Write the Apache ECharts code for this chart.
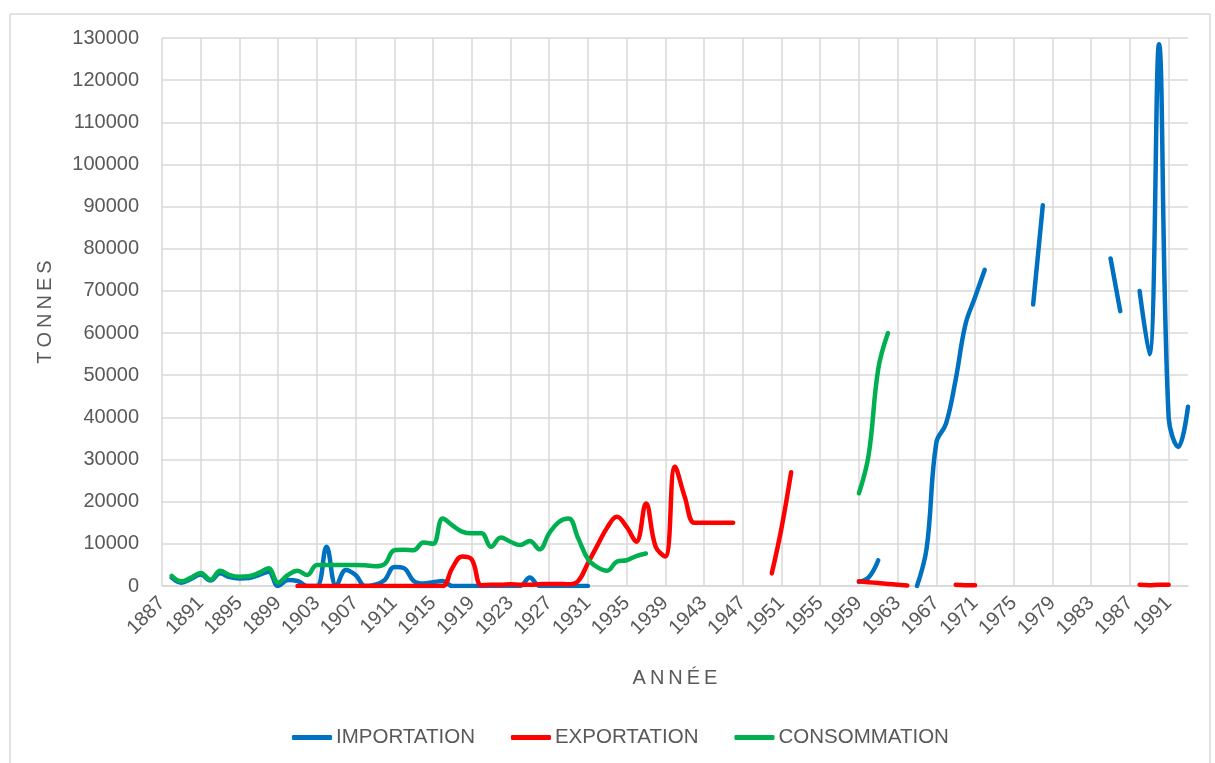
<!DOCTYPE html>
<html>
<head>
<meta charset="utf-8">
<script src="https://cdn.jsdelivr.net/npm/echarts@6/dist/echarts.min.js"></script>
<style>
  html, body { margin: 0; padding: 0; background: #fff; }
  #chart { width: 1215px; height: 763px; }
</style>
</head>
<body>
<div id="chart"></div>
<script>
// categories: one per year
var years = [];
for (var y = 1887; y <= 1993; y++) years.push(String(y));

var yTicks = [0, 10000, 20000, 30000, 40000, 50000, 60000, 70000, 80000, 90000, 100000, 110000, 120000, 130000];

// tonnes per year, 1887 -> 1993 (null = no data)
var importation = [
  null, 2000, 800, 1700, 2700, 1300, 3000, 2100, 1800, 1900,          // 1887-1896
  2600, 3400, 0, 1400, 1200, 0, 0, 9300, 0, 3800,                     // 1897-1906
  2600, 0, 300, 1400, 4500, 4200, 1200, 600, 900, 1200,               // 1907-1916
  0, 0, 0, 0, 0, 0, 0, 0, 2000, 0,                                    // 1917-1926
  0, 0, 0, 0, 0, null, null, null, null, null,                        // 1927-1936
  null, null, null, null, null, null, null, null, null, null,         // 1937-1946
  null, null, null, null, null, null, null, null, null, null,         // 1947-1956
  null, null, 1000, 2000, 6100, null, null, null, 0, 9000,            // 1957-1966
  34000, 38500, 49000, 62000, 68500, 75000, null, null, null, null,   // 1967-1976
  66800, 90300, null, null, null, null, null, null, 77700, 65200,     // 1977-1986
  null, 70000, 55000, 128500, 40000, 33000, 42500                     // 1987-1993
];

var exportation = [
  null, null, null, null, null, null, null, null, null, null,         // 1887-1896
  null, null, null, null, 0, 0, 0, 0, 0, 0,                           // 1897-1906
  0, 0, 0, 0, 0, 0, 0, 0, 0, 0,                                       // 1907-1916
  4300, 7000, 6300, 200, 300, 300, 400, 300, 300, 400,                // 1917-1926
  500, 500, 400, 1200, 5400, 9700, 13900, 16400, 14000, 10500,        // 1927-1936
  19600, 9300, 7000, 28300, 21200, 15000, 15000, 15000, 15000, 15000, // 1937-1946
  null, null, null, 3000, 13700, 27000, null, null, null, null,       // 1947-1956
  null, null, 1100, 900, 700, 500, 300, 100, null, null,              // 1957-1966
  null, null, 300, 200, 200, null, null, null, null, null,            // 1967-1976
  null, null, null, null, null, null, null, null, null, null,         // 1977-1986
  null, 300, 200, 300, 300, null, null                                // 1987-1993
];

var consommation = [
  null, 2400, 1100, 2000, 3100, 1500, 3600, 2600, 2200, 2300,         // 1887-1896
  3100, 4200, 800, 2600, 3600, 2600, 5000, 5000, 5000, 5000,          // 1897-1906
  5000, 4900, 4700, 5200, 8500, 8600, 8500, 10300, 10000, 16000,      // 1907-1916
  14400, 12900, 12500, 12500, 9300, 11500, 10500, 9700, 10700, 8700,  // 1917-1926
  12500, 15200, 16000, 11300, 6400, 4400, 3600, 5800, 6100, 7100,     // 1927-1936
  7700, null, null, null, null, null, null, null, null, null,         // 1937-1946
  null, null, null, null, null, null, null, null, null, null,         // 1947-1956
  null, null, 22000, 31000, 51500, 60000, null, null, null, null,     // 1957-1966
  null, null, null, null, null, null, null, null, null, null,         // 1967-1976
  null, null, null, null, null, null, null, null, null, null,         // 1977-1986
  null, null, null, null, null, null, null                            // 1987-1993
];

var seriesNames = ['IMPORTATION', 'EXPORTATION', 'CONSOMMATION'];
var seriesColors = ['#0070C0', '#FF0000', '#00B050'];
var seriesData = [importation, exportation, consommation];

var FONT = '"Liberation Sans", Arial, sans-serif';
var GREY_TEXT = '#595959';
var GRID_LINE = '#d9d9d9';

var chart = echarts.init(document.getElementById('chart'), null, { renderer: 'canvas' });

var option = {
  animation: false,
  backgroundColor: '#fff',
  textStyle: { fontFamily: FONT },
  graphic: [{
    type: 'rect',
    shape: { x: 10, y: 14, width: 1200, height: 760 },
    style: { fill: null, stroke: GRID_LINE, lineWidth: 1.5 },
    silent: true,
    z: -10
  }],
  grid: {
    left: 162,
    right: 27,
    top: 38,
    bottom: 177,
    containLabel: false,
    outerBoundsMode: 'none'
  },
  legend: {
    data: seriesNames,
    left: 287,
    top: 722,
    itemWidth: 40,
    itemHeight: 5,
    itemGap: 36,
    icon: 'roundRect',
    textStyle: { color: GREY_TEXT, fontSize: 20.5, fontFamily: FONT, padding: [0, 0, 0, -1] }
  },
  xAxis: {
    type: 'category',
    data: years,
    boundaryGap: false,
    name: 'A\u2009N\u2009N\u2009É\u2009E',
    nameLocation: 'middle',
    nameGap: 82,
    nameTextStyle: { color: GREY_TEXT, fontSize: 20, fontFamily: FONT },
    axisLine: { lineStyle: { color: GRID_LINE, width: 1.5 } },
    axisTick: { show: false },
    axisLabel: {
      interval: 3,
      rotate: 45,
      margin: 14,
      color: GREY_TEXT,
      fontSize: 20,
      fontFamily: FONT
    },
    splitLine: {
      show: true,
      interval: 3,
      lineStyle: { color: GRID_LINE, width: 1.5 }
    }
  },
  yAxis: {
    type: 'value',
    min: yTicks[0],
    max: yTicks[yTicks.length - 1],
    interval: yTicks[1] - yTicks[0],
    name: 'T\u2009O\u2009N\u2009N\u2009E\u2009S',
    nameLocation: 'middle',
    nameRotate: 90,
    nameGap: 107,
    nameTextStyle: { color: GREY_TEXT, fontSize: 20, fontFamily: FONT },
    axisLine: { show: false },
    axisTick: { show: false },
    axisLabel: {
      color: GREY_TEXT,
      fontSize: 20,
      margin: 23,
      fontFamily: FONT,
      formatter: function (v) { return String(v); }
    },
    splitLine: { lineStyle: { color: GRID_LINE, width: 1.5 } }
  },
  series: seriesNames.map(function (name, i) {
    return {
      name: name,
      type: 'line',
      data: seriesData[i],
      smooth: 0.4,
      showSymbol: false,
      connectNulls: false,
      color: seriesColors[i],
      lineStyle: { color: seriesColors[i], width: 4.5, cap: 'round', join: 'round' }
    };
  })
};

chart.setOption(option);
</script>
</body>
</html>
